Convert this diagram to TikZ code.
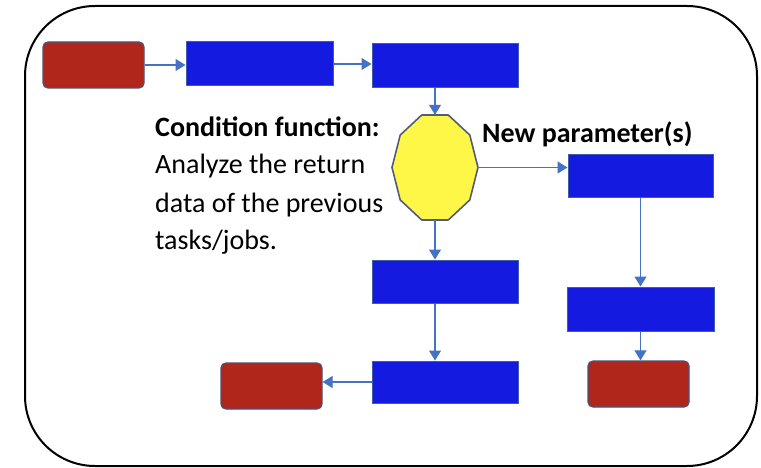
\documentclass[tikz,border=0pt]{standalone}
\usepackage{fontspec}
\setmainfont{Carlito}
\usetikzlibrary{arrows.meta}

\definecolor{termred}{RGB}{176,38,26}
\definecolor{termedge}{RGB}{78,80,120}
\definecolor{stepblue}{RGB}{20,26,224}
\definecolor{stepedge}{RGB}{62,92,168}
\definecolor{flowblue}{RGB}{68,114,196}
\definecolor{condyellow}{RGB}{255,247,72}
\definecolor{condedge}{RGB}{80,92,120}

\begin{document}
\begin{tikzpicture}[x=1pt,y=-1pt,
  terminal/.style={draw=termedge, fill=termred, line width=1.3pt,
    rounded corners=5pt, minimum width=101pt, minimum height=46pt, inner sep=0pt},
  stepbox/.style={draw=stepedge, fill=stepblue, line width=1pt,
    minimum width=146pt, minimum height=44pt, inner sep=0pt},
  flow/.style={draw=flowblue, line width=1.2pt,
    -{Triangle[length=10pt,width=12pt]}},
  txt/.style={inner sep=0pt, anchor=base west, font=\fontsize{28}{34}\selectfont},
  decagon/.style={draw=condedge, fill=condyellow, line width=1.6pt, line join=round}
  ]
  % canvas
  \fill[white] (0,0) rectangle (761,468);
  \useasboundingbox (0,0) rectangle (761,468);

  % outer frame
  \draw[line width=2pt, rounded corners=70pt] (25,6) rectangle (757,466);

  % start / end terminals
  \node[terminal] (r1) at (93.5,65) {};
  \node[terminal] (r2) at (271.5,386) {};
  \node[terminal] (r3) at (638.5,384) {};

  % process steps
  \node[stepbox, minimum width=147pt] (b1) at (259.5,64) {};
  \node[stepbox] (b2) at (445,66) {};
  \node[stepbox, minimum width=145pt, minimum height=43pt] (b3) at (640.5,176.5) {};
  \node[stepbox, minimum height=43pt] (b4) at (445,281.5) {};
  \node[stepbox, minimum width=147pt] (b5) at (640.5,309) {};
  \node[stepbox, minimum height=42pt] (b6) at (445,382) {};

  % condition decagon (anchor frame + drawn outline)
  \node[inner sep=0pt, minimum width=84pt, minimum height=105pt] (cond) at (435,167.5) {};
  \draw[decagon, shift={(cond.center)}]
    (72:43 and 55.2) -- (108:43 and 55.2) -- (144:43 and 55.2) -- (180:43 and 55.2)
    -- (216:43 and 55.2) -- (252:43 and 55.2) -- (288:43 and 55.2) -- (324:43 and 55.2)
    -- (0:43 and 55.2) -- (36:43 and 55.2) -- cycle;

  % connectors
  \draw[flow] (r1.east) -- (r1.east -| b1.west);
  \draw[flow] (b1.east) -- (b1.east -| b2.west);
  \draw[flow] (cond.north |- b2.south) -- (cond.north);
  \draw[flow] (cond.east) -- (cond.east -| b3.west);
  \draw[flow] (cond.south) -- (cond.south |- b4.north);
  \draw[flow] (cond.south |- b4.south) -- (cond.south |- b6.north);
  \draw[flow] (b6.west) -- (b6.west -| r2.east);
  \draw[flow] (b3.south) -- (b5.north);
  \draw[flow] (b5.south) -- (b5.south |- r3.north);

  % labels
  \node[txt] (t1) at (155,137) {\bfseries Condition function:};
  \node[txt] (t2) at (155,174) {Analyze the return};
  \node[txt] (t3) at (155,212) {data of the previous};
  \node[txt] (t4) at (155,250) {tasks/jobs.};
  \node[txt] (np) at (482,143) {\bfseries New parameter(s)};
\end{tikzpicture}
\end{document}
